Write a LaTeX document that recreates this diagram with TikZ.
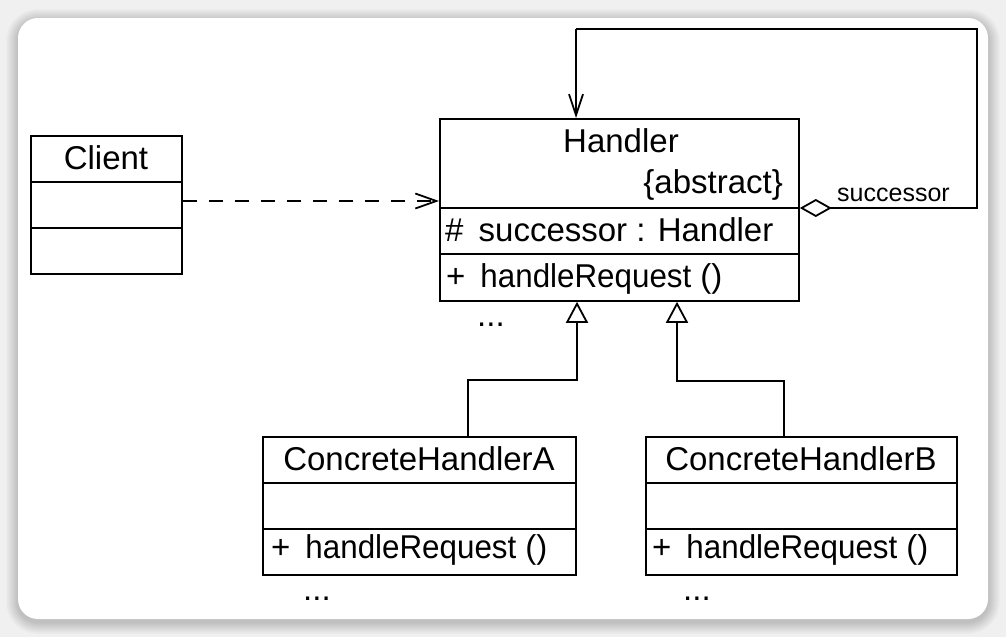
\documentclass[tikz,border=0pt]{standalone}
\usepackage{fontspec}
\setmainfont{Liberation Sans}
\usetikzlibrary{arrows.meta}
\definecolor{pagebg}{HTML}{F0F0F0}
\tikzset{
  cls/.style={draw, line width=1.8pt, fill=white, anchor=north west, inner sep=0pt},
  sep/.style={line width=1.8pt},
  txt/.style={inner sep=0pt, font=\fontsize{33}{39}\selectfont},
  small/.style={inner sep=0pt, font=\fontsize{25}{30}\selectfont},
  conn/.style={line width=1.8pt},
  dep/.style={conn, dash pattern=on 14pt off 12pt, -{Straight Barb[length=21pt,width=15pt,line width=1.8pt]}},
  nav/.style={conn, -{Straight Barb[length=21pt,width=14pt,line width=1.8pt]}},
  agg/.style={conn, {Diamond[open,length=32pt,width=18pt,fill=white,line width=1.8pt]}-},
  gen/.style={conn, -{Triangle[open,length=21pt,width=22pt,fill=white,line width=1.8pt]}},
}
\newcommand{\hreq}{+\hspace{15pt}\scalebox{0.95}[1]{handleRequest}\hspace{9pt}()}
\begin{document}
\begin{tikzpicture}[x=1pt,y=-1pt]
\useasboundingbox (0,0) rectangle (1006,637);
\fill[pagebg] (0,0) rectangle (1006,637);
% soft shadow
\foreach \i in {1,...,12}{
  \fill[black, opacity=0.016, rounded corners=20pt+\i pt] (18-\i,18-\i+3) rectangle (988+\i,619+\i+3);
}
\fill[white, rounded corners=20pt] (18,18) rectangle (988,619);

% Client
\node[cls, minimum width=151pt, minimum height=138pt] (client) at (30,135) {};
\draw[sep] (30,182) -- (181,182);
\draw[sep] (30,228) -- (181,228);
\node[txt, anchor=base] (clientname) at (106,169) {Client};

% Handler
\node[cls, minimum width=359pt, minimum height=182pt] (handler) at (439,118) {};
\draw[sep] (439,208) -- (798,208);
\draw[sep] (439,254) -- (798,254);
\node[txt, anchor=base] (handlername) at (621,152) {Handler};
\node[txt, anchor=base east] (abstract) at (783,193) {\{abstract\}};
\node[txt, anchor=base west] (hattr) at (445,241) {\#\hspace{6pt} successor : Handler};
\node[txt, anchor=base west] (hop) at (446,287) {\hreq};
\node[txt, anchor=base west] (hdots) at (477,326) {...};

% ConcreteHandlerA
\node[cls, minimum width=313pt, minimum height=138pt] (cha) at (262,436) {};
\draw[sep] (262,483) -- (575,483);
\draw[sep] (262,529) -- (575,529);
\node[txt, anchor=base] (chaname) at (419,470) {ConcreteHandlerA};
\node[txt, anchor=base west] (chaop) at (271,558) {\hreq};
\node[txt, anchor=base west] (chadots) at (303,600) {...};

% ConcreteHandlerB
\node[cls, minimum width=311pt, minimum height=138pt] (chb) at (645,436) {};
\draw[sep] (645,483) -- (956,483);
\draw[sep] (645,529) -- (956,529);
\node[txt, anchor=base] (chbname) at (801,470) {ConcreteHandlerB};
\node[txt, anchor=base west] (chbop) at (652,558) {\hreq};
\node[txt, anchor=base west] (chbdots) at (683,600) {...};

% dependency Client -> Handler
\draw[dep] (client.east |- 0,201) -- (handler.west |- 0,201);

% self aggregation successor
\coordinate (loopA) at (977,208);
\coordinate (loopB) at (977,29);
\coordinate (loopC) at (576,29);
\draw[agg] (handler.east |- 0,208) -- (loopA) -- (loopB) -- (loopC);
\draw[nav] (loopC) -- (handler.north -| loopC);
\node[small, anchor=base west] (succlabel) at (837,201) {successor};

% generalizations
\coordinate (ga) at (468,380);
\coordinate (gb) at (577,380);
\draw[gen] (cha.north -| ga) -- (ga) -- (gb) -- (handler.south -| gb);
\coordinate (gc) at (784,381);
\coordinate (gd) at (677,381);
\draw[gen] (chb.north -| gc) -- (gc) -- (gd) -- (handler.south -| gd);
\end{tikzpicture}
\end{document}
